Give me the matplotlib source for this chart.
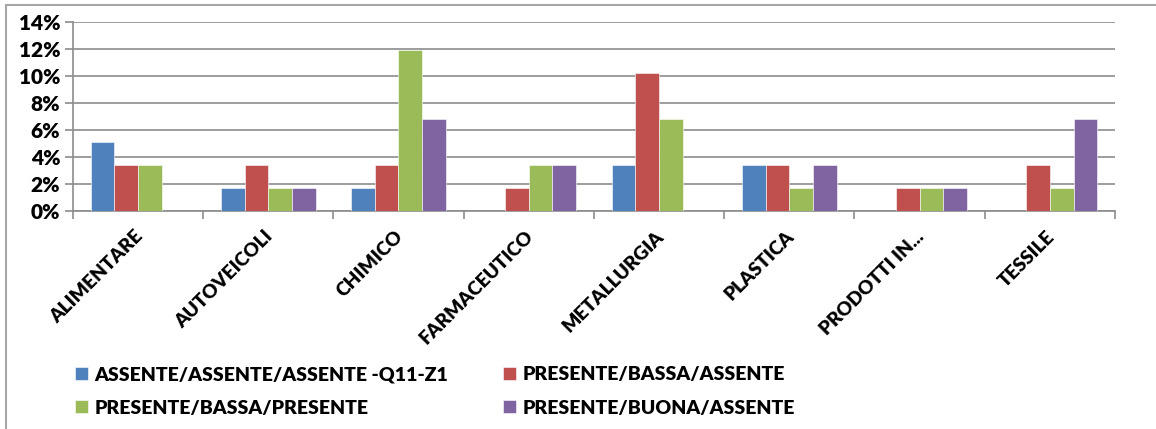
import numpy as np
import matplotlib.pyplot as plt
from matplotlib.patches import Rectangle
from matplotlib.ticker import PercentFormatter

FONT = 'Lato'

settori = ['ALIMENTARE', 'AUTOVEICOLI', 'CHIMICO', 'FARMACEUTICO',
           'METALLURGIA', 'PLASTICA', 'PRODOTTI IN...', 'TESSILE']

serie = ['ASSENTE/ASSENTE/ASSENTE -Q11-Z1', 'PRESENTE/BASSA/ASSENTE',
         'PRESENTE/BASSA/PRESENTE', 'PRESENTE/BUONA/ASSENTE']

ass_ass_ass = [5.1, 1.7, 1.7, 0.0, 3.4, 3.4, 0.0, 0.0]
pres_bassa_ass = [3.4, 3.4, 3.4, 1.7, 10.2, 3.4, 1.7, 3.4]
pres_bassa_pres = [3.4, 1.7, 11.9, 3.4, 6.8, 1.7, 1.7, 1.7]
pres_buona_ass = [0.0, 1.7, 6.8, 3.4, 0.0, 3.4, 1.7, 6.8]

colori = ['#4F81BD', '#C0504D', '#9BBB59', '#8064A2']

valori = [ass_ass_ass, pres_bassa_ass, pres_bassa_pres, pres_buona_ass]

fig = plt.figure(figsize=(11.56, 4.29), dpi=100)
ax = fig.add_axes([0.063, 0.508, 0.9015, 0.441])

# cornice del grafico
fig.patches.append(Rectangle((6 / 1156, -0.1), 1.2, 1 - 5 / 429 + 0.1,
                             transform=fig.transFigure, fill=False,
                             edgecolor='#A6A6A6', linewidth=1.5))

x = np.arange(len(settori))
w = 1 / 5.5
barre = []
for i, (nome, v, c) in enumerate(zip(serie, valori, colori)):
    b = ax.bar(x + (i - 1.5) * w, v, w, color=c, label=nome,
               edgecolor='white', linewidth=0.4, zorder=3)
    barre.append(b)

ax.set_xlim(-0.5, len(settori) - 0.5)
ax.set_ylim(0, 14)
ax.set_yticks(np.arange(0, 15, 2))
ax.yaxis.set_major_formatter(PercentFormatter(decimals=0))
ax.grid(axis='y', color='#8C8C8C', linewidth=1.2, zorder=0)

ax.set_xticks(np.arange(len(settori) + 1) - 0.5)
ax.set_xticklabels([])
ax.set_xticks(x - 0.03, minor=True)
ax.set_xticklabels(settori, minor=True, rotation=45, ha='right',
                   rotation_mode='anchor', fontsize=13.8,
                   fontweight='heavy', family=FONT)
ax.tick_params(axis='x', which='minor', length=0, pad=12)
ax.tick_params(axis='x', which='major', length=6, color='#8C8C8C', width=1.2)
ax.tick_params(axis='y', length=6, color='#8C8C8C', width=1.2, pad=3)
for lab in ax.get_yticklabels():
    lab.set_fontsize(15)
    lab.set_fontweight('heavy')
    lab.set_family(FONT)

for s in ['top', 'right']:
    ax.spines[s].set_visible(False)
for s in ['left', 'bottom']:
    ax.spines[s].set_color('#8C8C8C')
    ax.spines[s].set_linewidth(1.2)

# legenda per righe: 0 1 / 2 3
ordine = [0, 2, 1, 3]
fig.legend([barre[k] for k in ordine], [serie[k] for k in ordine],
           loc='lower left', bbox_to_anchor=(0.05, -0.012), ncol=2,
           frameon=False, handlelength=0.65, handleheight=0.65,
           handletextpad=0.35, columnspacing=2.8, labelspacing=0.85,
           prop={'family': FONT, 'weight': 'heavy', 'size': 14})

fig.savefig('out.png', dpi=100)
